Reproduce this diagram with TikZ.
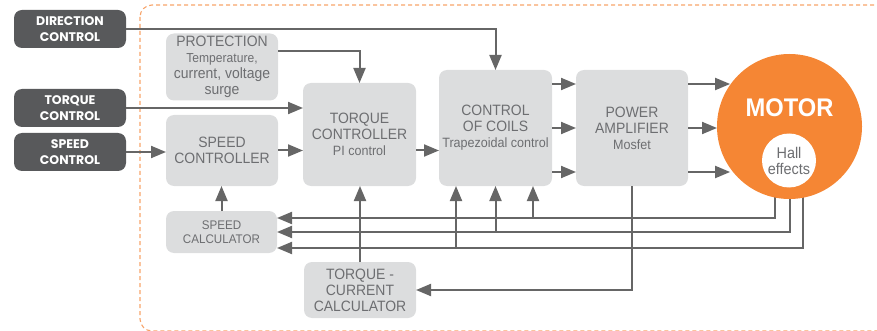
\documentclass[tikz,border=0pt]{standalone}
\usepackage{fontspec}
\setmainfont{Liberation Sans}[FakeStretch=0.93]
\newfontfamily\darkfont{Poppins}
\usetikzlibrary{arrows.meta,backgrounds}
\definecolor{darkbox}{HTML}{58595B}
\definecolor{lightbox}{HTML}{DCDDDE}
\definecolor{txtgray}{HTML}{6D6E71}
\definecolor{linegray}{HTML}{666666}
\definecolor{motororange}{HTML}{F58634}
\definecolor{dashorange}{HTML}{F7A46A}
\tikzset{
  darkbx/.style={fill=darkbox, rounded corners=8pt, text=white, align=center,
    inner sep=0pt, outer sep=0pt, minimum width=112pt, minimum height=38pt,
    font=\darkfont\bfseries\fontsize{12.5}{16}\selectfont},
  graybx/.style={fill=lightbox, rounded corners=8pt, text=txtgray, align=center,
    inner sep=0pt, outer sep=0pt, font=\fontsize{15}{16}\selectfont},
  arr/.style={draw=linegray, line width=2pt, -{Triangle[length=15pt,width=12pt]}},
}
\begin{document}
\begin{tikzpicture}[x=1pt,y=-1pt]
\useasboundingbox (0,0) rectangle (877,331);
% left control boxes
\node[darkbx] (dir) at (70,29) {DIRECTION\\CONTROL};
\node[darkbx] (tq) at (70,108) {TORQUE\\CONTROL};
\node[darkbx] (sp) at (70,152) {SPEED\\CONTROL};
% gray blocks
\node[graybx, minimum width=112pt, minimum height=67pt] (prot) at (222,67)
  {PROTECTION\\\fontsize{13}{12.5}\selectfont Temperature,\\current, voltage\\surge};
\node[graybx, minimum width=112pt, minimum height=71pt] (spc) at (222,150.5) {SPEED\\CONTROLLER};
\node[graybx, minimum width=113pt, minimum height=103pt] (tqc) at (359.5,134.5)
  {TORQUE\\CONTROLLER\\\fontsize{13.5}{16}\selectfont PI control};
\node[graybx, minimum width=113pt, minimum height=116pt] (coils) at (495.5,128)
  {CONTROL\\OF COILS\\\fontsize{13.5}{16}\selectfont Trapezoidal control};
\node[graybx, minimum width=112pt, minimum height=116pt] (amp) at (632,128)
  {POWER\\AMPLIFIER\\\fontsize{13.5}{16}\selectfont Mosfet};
\node[graybx, minimum width=111pt, minimum height=42pt, font=\fontsize{12.5}{14}\selectfont] (scalc) at (221.5,232) {SPEED\\CALCULATOR};
\node[graybx, minimum width=112pt, minimum height=56pt] (tcc) at (360,290) {TORQUE -\\CURRENT\\CALCULATOR};
% motor
\node[circle, fill=motororange, minimum size=145pt, inner sep=0pt, outer sep=0pt] (motor) at (789.5,126.5) {};
\node[anchor=base, text=white, inner sep=0pt, font=\bfseries\fontsize{25.5}{26}\selectfont] (motorlbl) at (789.5,117) {MOTOR};
\node[circle, fill=white, minimum size=54pt, inner sep=0pt, outer sep=0pt, text=txtgray, align=center,
  font=\fontsize{15.5}{16}\selectfont] (hall) at (789,160.5) {Hall\\effects};
% helper coordinates
\coordinate (L1) at ([yshift=14pt]scalc.east);
\coordinate (L3) at ([yshift=-16pt]scalc.east);
\coordinate (C1) at ([xshift=-39.5pt]coils.south);
\coordinate (C3) at ([xshift=37.5pt]coils.south);
\coordinate (M1) at ([xshift=-14.5pt]motor.center);
\coordinate (M3) at ([xshift=13.5pt]motor.center);
\coordinate (A1) at ([yshift=44pt]amp.east);
\coordinate (A3) at ([yshift=-44pt]amp.east);
\begin{pgfonlayer}{background}
\draw[dashorange, line width=1.1pt, dash pattern=on 4pt off 3pt, rounded corners=12pt] (140,5) rectangle (895,331);
\draw[arr] (M1) |- (L1);
\draw[arr] (motor.center) |- (scalc.east);
\draw[arr] (M3) |- (L3);
\end{pgfonlayer}
% connectors
\draw[arr] (dir.east) -| (coils.north);
\draw[arr] ([yshift=15.5pt]prot.east) -| (tqc.north);
\draw[arr] (tq.east) -- (tq.east -| tqc.west);
\draw[arr] (sp.east) -- (sp.east -| spc.west);
\draw[arr] (spc.east) -- (spc.east -| tqc.west);
\draw[arr] (spc.east -| tqc.east) -- (spc.east -| coils.west);
\foreach \s in {44,0,-44}{
  \draw[arr] ([yshift=\s pt]coils.east) -- ([yshift=\s pt]amp.west);
}
\draw[arr] (A1) -- (A1 -| motor.145);
\draw[arr] (amp.east) -- (amp.east -| motor.west);
\draw[arr] (A3) -- (A3 -| motor.215);
\draw[arr] (scalc.north) -- (scalc.north |- spc.south);
\draw[arr] (tcc.north) -- (tcc.north |- tqc.south);
\draw[arr] (C1 |- L3) -- (C1);
\draw[arr] (coils.south |- scalc.east) -- (coils.south);
\draw[arr] (C3 |- L1) -- (C3);
\draw[arr] (amp.south) |- (tcc.east);
\end{tikzpicture}
\end{document}
